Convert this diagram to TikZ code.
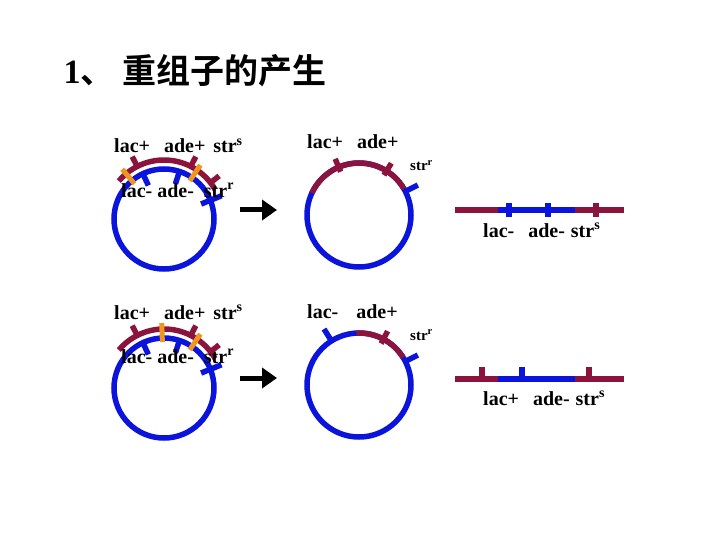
\documentclass[tikz,border=0pt]{standalone}
\usepackage{fontspec}
\setmainfont{Liberation Serif}
\newfontfamily\cjk{Noto Sans CJK SC}[BoldFont={Noto Sans CJK SC Bold}]
\usetikzlibrary{arrows.meta}
\definecolor{dnared}{RGB}{140,20,60}
\definecolor{dnablue}{RGB}{10,20,220}
\definecolor{cross}{RGB}{240,150,30}
\tikzset{
    red-dna/.style = {draw=dnared, line width=5.5pt},
    blue-dna/.style = {draw=dnablue, line width=5.5pt},
    cross-mark/.style = {draw=cross, line width=5pt},
    gene/.style = {font=\bfseries\fontsize{20}{20}\selectfont, inner sep=1pt, anchor=base west},
    big-arrow/.style = {line width=5pt, -{Triangle[length=15pt, width=20pt]}},
}
\newcommand{\sus}[1]{\textsuperscript{#1}}
\begin{document}
\begin{tikzpicture}[x=1pt, y=-1pt]
\useasboundingbox (0,0) rectangle (720,540);
\node[font=\bfseries\fontsize{34}{34}\selectfont, anchor=base west] (title) at (60,84) {1{\cjk 、 重组子的产生}};

% top left: donor arc on recipient circle
\draw[blue-dna] (164,219) circle (50);
\draw[red-dna] (164,219) ++(-140:59) arc (-140:-30:59);
\foreach \a in {-117,-63,-38} \draw[red-dna] (164,219) ++(\a:59) -- ++(\a:11);
\foreach \a in {-115,-72} \draw[blue-dna] (164,219) ++(\a:50) -- ++(\a:-13);
\draw[blue-dna] (164,219) ++(-22:40) -- ++(-22:22);
\foreach \a in {-130,-56} \draw[cross-mark] (164,219) ++(\a:46) -- ++(\a:19);
\node[gene] (donorA) at (113,153) {lac+\hspace{0.7em}ade+\hspace{0.4em}str\sus{s}};
\node[gene] (recA) at (120,197) {lac- ade-\hspace{0.5em}str\sus{r}};
\coordinate (arrA1) at (240,210);
\coordinate (arrA2) at (277,210);
\draw[big-arrow] (arrA1) -- (arrA2);

% top right: recombinant
\draw[blue-dna] (359,215) circle (52);
\draw[red-dna] (359,215) ++(-155:52) arc (-155:-30:52);
\foreach \a in {-113,-58} \draw[red-dna] (359,215) ++(\a:47) -- ++(\a:14);
\draw[blue-dna] (359,215) ++(-27:52) -- ++(-27:14);
\node[gene] (recombA) at (306,149) {lac+\hspace{0.7em}ade+};
\node[gene, font=\bfseries\fontsize{15}{15}\selectfont] (strA) at (409,171) {str\sus{r}};

% top line fragment
\draw[red-dna] (455,210) -- (498,210);
\draw[blue-dna] (498,210) -- (575,210);
\draw[red-dna] (575,210) -- (624,210);
\foreach \x in {509,548} \draw[blue-dna] (\x,203) -- (\x,217);
\draw[red-dna] (596,203) -- (596,217);
\node[gene] (fragA) at (482,237) {lac-\hspace{0.7em}ade-\hspace{0.3em}str\sus{s}};

% bottom left
\draw[blue-dna] (164,388) circle (50);
\draw[red-dna] (164,388) ++(-140:59) arc (-140:-30:59);
\foreach \a in {-117,-63,-38} \draw[red-dna] (164,388) ++(\a:59) -- ++(\a:11);
\foreach \a in {-115,-72} \draw[blue-dna] (164,388) ++(\a:50) -- ++(\a:-13);
\draw[blue-dna] (164,388) ++(-22:40) -- ++(-22:22);
\foreach \a in {-92,-56} \draw[cross-mark] (164,388) ++(\a:46) -- ++(\a:19);
\node[gene] (donorB) at (113,319) {lac+\hspace{0.7em}ade+\hspace{0.4em}str\sus{s}};
\node[gene] (recB) at (120,363) {lac- ade-\hspace{0.5em}str\sus{r}};
\coordinate (arrB1) at (240,378);
\coordinate (arrB2) at (277,378);
\draw[big-arrow] (arrB1) -- (arrB2);

% bottom right
\draw[blue-dna] (359,385) circle (52);
\draw[red-dna] (359,385) ++(-93:52) arc (-93:-32:52);
\draw[blue-dna] (359,385) ++(-122:52) -- ++(-122:14);
\draw[red-dna] (359,385) ++(-62:47) -- ++(-62:14);
\draw[blue-dna] (359,385) ++(-27:52) -- ++(-27:14);
\node[gene] (recombB) at (306,318) {lac-\hspace{0.9em}ade+};
\node[gene, font=\bfseries\fontsize{15}{15}\selectfont] (strB) at (409,340) {str\sus{r}};

% bottom line fragment
\draw[red-dna] (455,379) -- (498,379);
\draw[blue-dna] (498,379) -- (575,379);
\draw[red-dna] (575,379) -- (624,379);
\draw[red-dna] (482,367) -- (482,379);
\draw[blue-dna] (522,367) -- (522,379);
\draw[red-dna] (589,367) -- (589,379);
\node[gene] (fragB) at (482,405) {lac+\hspace{0.7em}ade-\hspace{0.3em}str\sus{s}};
\end{tikzpicture}
\end{document}
